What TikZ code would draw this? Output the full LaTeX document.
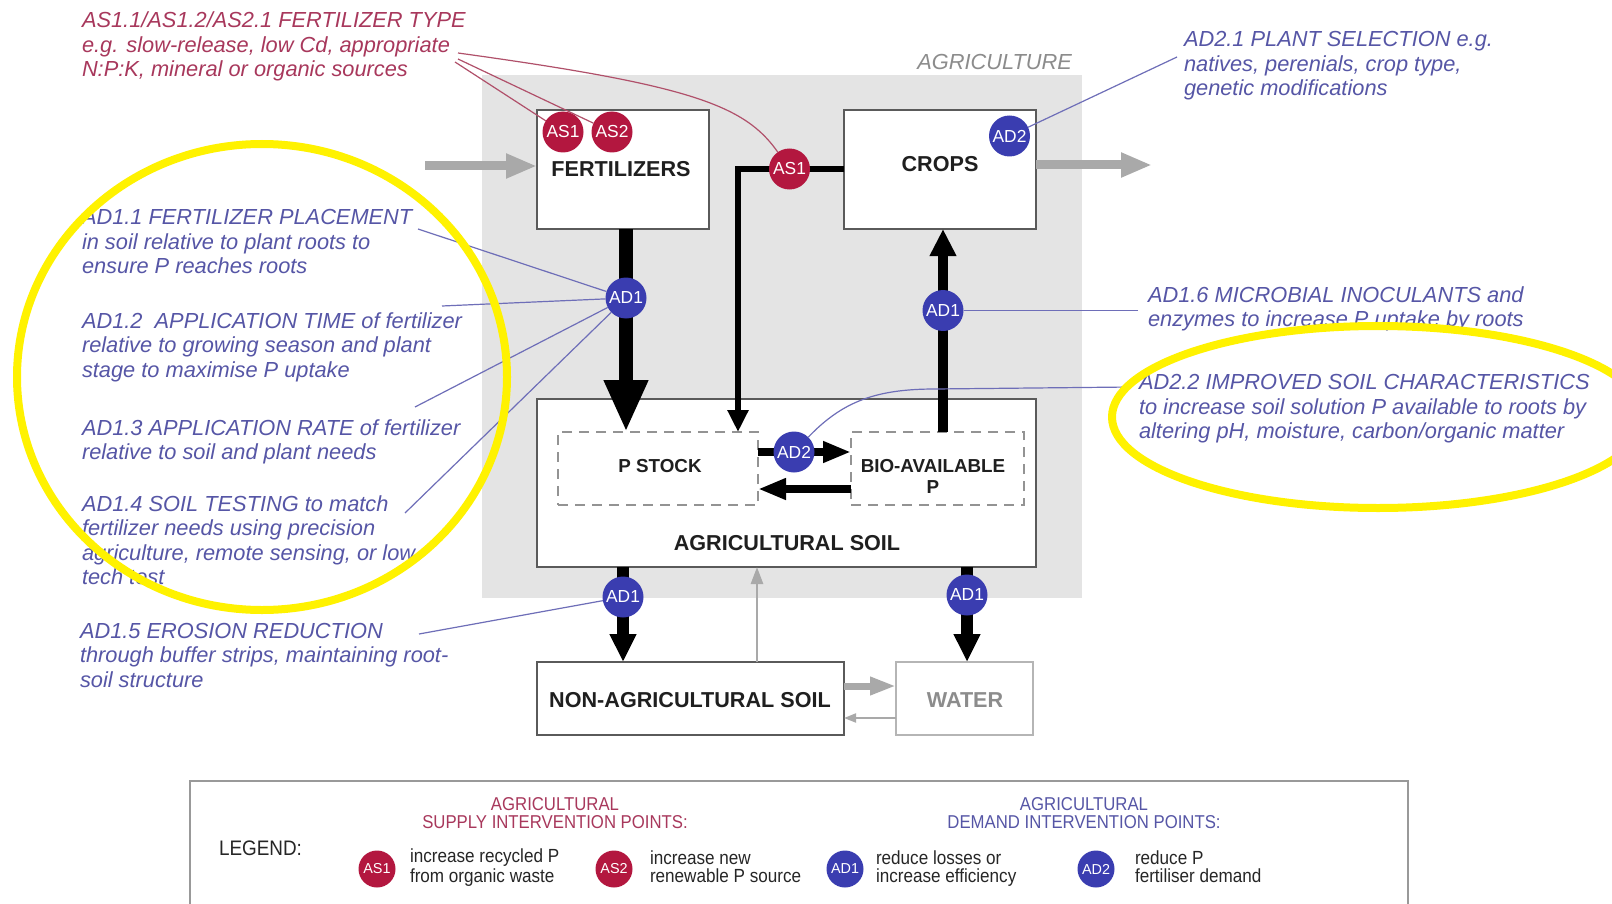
\documentclass[tikz,border=0pt]{standalone}
\usepackage{fontspec}
\setmainfont{Liberation Sans}
\newfontfamily\narrowsans{Liberation Sans}[FakeStretch=0.9]
\usetikzlibrary{arrows.meta}

\definecolor{asred}{HTML}{B3173F}
\definecolor{adblue}{HTML}{3A3DB0}
\definecolor{redtxt}{HTML}{A8385C}
\definecolor{bluetxt}{HTML}{5656A6}
\definecolor{redline}{HTML}{B0506A}
\definecolor{blueline}{HTML}{6E6EB8}
\definecolor{agrigray}{HTML}{E4E4E4}
\definecolor{flowgray}{HTML}{A9A9A9}
\definecolor{zonegray}{HTML}{8C8C8C}
\definecolor{boxline}{HTML}{5A5A5A}
\definecolor{hilite}{HTML}{FFF200}

\begin{document}
\begin{tikzpicture}[x=0.5pt, y=-0.5pt,
  every node/.style={inner sep=0pt, outer sep=0pt},
  % multi-line notes are anchored at the baseline of their last line
  note/.style={font=\fontsize{10.9}{12.25}\selectfont\itshape, align=left, anchor=base west},
  rednote/.style={note, text=redtxt},
  bluenote/.style={note, text=bluetxt},
  box/.style={draw=boxline, line width=1pt, fill=white},
  pool/.style={draw=gray!85, line width=0.9pt, dash pattern=on 5pt off 3.5pt},
  boxlabel/.style={font=\fontsize{10.8}{12}\selectfont\bfseries, text=black!88},
  poollabel/.style={font=\fontsize{9.4}{10.5}\selectfont\bfseries, text=black!88},
  dot/.style={circle, minimum size=20.5pt, text=white, font=\fontsize{8.7}{9}\selectfont},
  asdot/.style={dot, fill=asred},
  addot/.style={dot, fill=adblue},
  keydot/.style={circle, minimum size=18.5pt, text=white, font=\fontsize{7.2}{8}\selectfont},
  fatarrow/.style={line width=7pt, -{Triangle[length=26pt,width=20.5pt]}},
  cropflow/.style={line width=3pt, -{Triangle[length=11pt,width=10pt]}},
  upflow/.style={line width=5pt, -{Triangle[length=13.5pt,width=12.5pt]}},
  lossflow/.style={line width=6pt, -{Triangle[length=14pt,width=12.5pt]}},
  swapflow/.style={line width=4pt, -{Triangle[length=14pt,width=10pt]}},
  grayfat/.style={draw=flowgray, line width=4.5pt, -{Triangle[length=15.5pt,width=11.5pt]}},
  graymid/.style={draw=flowgray, line width=3.5pt, -{Triangle[length=13pt,width=8.5pt]}},
  graythin/.style={draw=flowgray, line width=1pt, -{Triangle[length=6pt,width=4.5pt]}},
  grayup/.style={draw=flowgray, line width=1.3pt, -{Triangle[length=8.5pt,width=6pt]}},
  redlink/.style={draw=redline, line width=0.6pt},
  bluelink/.style={draw=blueline, line width=0.6pt},
  keyhead/.style={font=\narrowsans\fontsize{9.3}{8.7}\selectfont, align=center, anchor=base},
  keytext/.style={font=\narrowsans\fontsize{9.5}{8.8}\selectfont, align=left, anchor=base west, text=black!85},
  ring/.style={draw=hilite, line width=4pt}
]
\useasboundingbox (0,0) rectangle (1612,904);
\fill[white] (0,0) rectangle (1612,904);
\clip (0,0) rectangle (1612,904);

% agriculture zone
\node[fill=agrigray, minimum width=300pt, minimum height=261.5pt] (agri) at (782,336.5) {};
\node[font=\fontsize{10.9}{12}\selectfont\itshape, text=zonegray, anchor=base east] (agrilabel) at (1072,69.5) {AGRICULTURE};

% compartments
\node[box, minimum width=86pt, minimum height=59.5pt] (fert) at (623,169.5) {};
\node[box, minimum width=96pt, minimum height=59.5pt] (crops) at (940,169.5) {};
\node[box, minimum width=249.5pt, minimum height=84pt] (soil) at (786.5,483) {};
\node[pool, minimum width=100pt, minimum height=36.5pt] (pstock) at (658,468.5) {};
\node[pool, minimum width=86.5pt, minimum height=36.5pt] (bio) at (937.5,468.5) {};
\node[box, minimum width=153.5pt, minimum height=36.5pt] (nonag) at (690.5,698.5) {};
\node[box, draw=boxline!45, minimum width=68.5pt, minimum height=36.5pt] (water) at (964.5,698.5) {};

\node[boxlabel] (fertlbl) at (621,169) {FERTILIZERS};
\node[boxlabel] (croplbl) at (940,164) {CROPS};
\node[poollabel] (pslbl) at (660,466) {P STOCK};
\node[poollabel, align=center] (biolbl) at (933,476.5) {BIO-AVAILABLE\\P};
\node[boxlabel] (soillbl) at (787,543) {AGRICULTURAL SOIL};
\node[boxlabel] (nonaglbl) at (690,700) {NON-AGRICULTURAL SOIL};
\node[boxlabel, text=zonegray] (waterlbl) at (965,700) {WATER};

% intervention point positions
\coordinate (pAS1f) at (563,132);
\coordinate (pAS2f) at (612,132);
\coordinate (pAS1m) at (789.5,169);
\coordinate (pAD2c) at (1009.5,136);
\coordinate (pAD1a) at (626,298);
\coordinate (pAD1b) at (943,310.5);
\coordinate (pAD2s) at (794,452);
\coordinate (pAD1c) at (623,597);
\coordinate (pAD1d) at (967,595);

% phosphorus flows
\draw[fatarrow] (fert.south -| pAD1a) -- (pstock.north -| pAD1a);
\coordinate (bend) at (738,169.5);
\draw[cropflow] (crops.west) -- (bend) -- (bend |- pstock.north);
\draw[upflow] (bio.north -| pAD1b) -- (crops.south -| pAD1b);
\draw[swapflow] (pstock.east |- pAD2s) -- (bio.west |- pAD2s);
\coordinate (backrow) at (805,489);
\draw[swapflow] (bio.west |- backrow) -- (pstock.east |- backrow);
\draw[lossflow] (soil.south -| pAD1c) -- (nonag.north -| pAD1c);
\draw[lossflow] (soil.south -| pAD1d) -- (water.north -| pAD1d);

% flows across the zone boundary
\coordinate (inflow) at (425,166);
\draw[grayfat] (inflow) -- (fert.west |- inflow);
\coordinate (outflow) at (1152,165);
\draw[grayfat] (crops.east |- outflow) -- (outflow);
\coordinate (runoff) at (870,686);
\draw[graymid] (nonag.east |- runoff) -- (water.west |- runoff);
\coordinate (returnrow) at (870,718);
\draw[graythin] (water.west |- returnrow) -- (nonag.east |- returnrow);
\coordinate (uplift) at (757,620);
\draw[grayup] (nonag.north -| uplift) -- (soil.south -| uplift);

% intervention points
\node[asdot] (as1f) at (pAS1f) {AS1};
\node[asdot] (as2f) at (pAS2f) {AS2};
\node[asdot] (as1m) at (pAS1m) {AS1};
\node[addot] (ad2c) at (pAD2c) {AD2};
\node[addot] (ad1a) at (pAD1a) {AD1};
\node[addot] (ad1b) at (pAD1b) {AD1};
\node[addot] (ad2s) at (pAD2s) {AD2};
\node[addot] (ad1c) at (pAD1c) {AD1};
\node[addot] (ad1d) at (pAD1d) {AD1};

% supply notes
\node[rednote] (fertype) at (82,76.5) {AS1.1/AS1.2/AS2.1 FERTILIZER TYPE\\e.g. slow-release, low Cd, appropriate\\N:P:K, mineral or organic sources};
\coordinate (r1) at (458,53);
\coordinate (r2) at (458,59);
\coordinate (r3) at (455,62);
\draw[redlink] (r3) -- (as1f);
\draw[redlink] (r2) -- (as2f);
\draw[redlink] (r1) .. controls (690,85) and (745,105) .. (as1m);

% demand notes
\node[bluenote] (n21) at (1184,96) {AD2.1 PLANT SELECTION e.g.\\natives, perenials, crop type,\\genetic modifications};
\node[bluenote] (n11) at (82,273.5) {AD1.1 FERTILIZER PLACEMENT\\in soil relative to plant roots to\\ensure P reaches roots};
\node[bluenote] (n12) at (82,377) {AD1.2\ \ APPLICATION TIME of fertilizer\\relative to growing season and plant\\stage to maximise P uptake};
\node[bluenote] (n13) at (82,459.5) {AD1.3 APPLICATION RATE of fertilizer\\relative to soil and plant needs};
\node[bluenote] (n14) at (82,584.5) {AD1.4 SOIL TESTING to match\\fertilizer needs using precision\\agriculture, remote sensing, or low\\tech test};
\node[bluenote] (n15) at (80,687) {AD1.5 EROSION REDUCTION\\through buffer strips, maintaining root-\\soil structure};
\node[bluenote] (n16) at (1148,326.5) {AD1.6 MICROBIAL INOCULANTS and\\enzymes to increase P uptake by roots};
\node[bluenote] (n22) at (1139,438.5) {AD2.2 IMPROVED SOIL CHARACTERISTICS\\to increase soil solution P available to roots by\\altering pH, moisture, carbon/organic matter};

\coordinate (e21) at (1177,57);
\coordinate (e11) at (418,229);
\coordinate (e12) at (442,306);
\coordinate (e13) at (415,407);
\coordinate (e14) at (405,513);
\coordinate (e15) at (419,634);
\coordinate (e16) at (1138,310.5);
\coordinate (e22) at (1131,387);
\coordinate (k22) at (935,389);
\draw[bluelink] (e21) -- (ad2c);
\draw[bluelink] (e11) -- (ad1a);
\draw[bluelink] (e12) -- (ad1a);
\draw[bluelink] (e13) -- (ad1a);
\draw[bluelink] (e14) -- (ad1a);
\draw[bluelink] (e15) -- (ad1c);
\draw[bluelink] (e16) -- (ad1b);
\draw[bluelink] (e22) -- (k22) .. controls (875,389) and (842,402) .. (ad2s);

% legend
\draw[draw=black!40, line width=0.8pt] (190,910) -- (190,781) -- (1408,781) -- (1408,910);
\node[font=\narrowsans\fontsize{10.5}{12}\selectfont, anchor=base west, text=black!85] (legendlbl) at (219,855) {LEGEND:};
\node[keyhead, text=redtxt] (supplyhead) at (555,828) {AGRICULTURAL\\SUPPLY INTERVENTION POINTS:};
\node[keyhead, text=bluetxt] (demandhead) at (1084,828) {AGRICULTURAL\\DEMAND INTERVENTION POINTS:};
\node[keydot, fill=asred] (kas1) at (377,869) {AS1};
\node[keydot, fill=asred] (kas2) at (614,869) {AS2};
\node[keydot, fill=adblue] (kad1) at (845,869) {AD1};
\node[keydot, fill=adblue] (kad2) at (1096,869) {AD2};
\node[keytext] (tas1) at (410,882.5) {increase recycled P\\from organic waste};
\node[keytext] (tas2) at (650,882.5) {increase new\\renewable P source};
\node[keytext] (tad1) at (876,882.5) {reduce losses or\\increase efficiency};
\node[keytext] (tad2) at (1135,882.5) {reduce P\\fertiliser demand};

% highlighted groups
\draw[ring] (262,377) ellipse [x radius=122.5pt, y radius=116.5pt];
\draw[ring] (1378,417) ellipse [x radius=133pt, y radius=45.5pt];
\end{tikzpicture}
\end{document}
